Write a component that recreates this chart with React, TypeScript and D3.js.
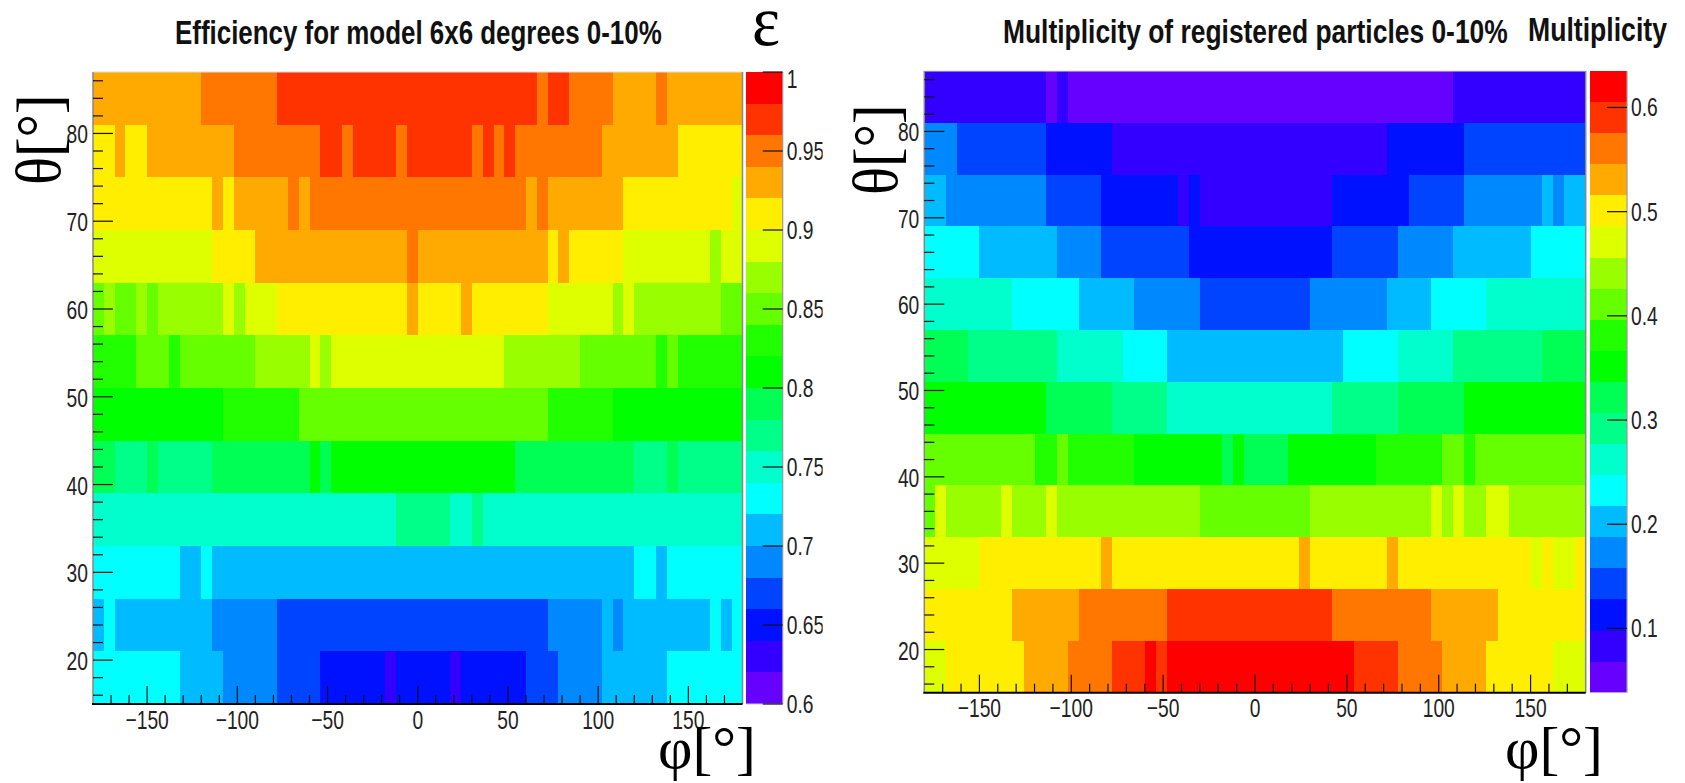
import React from "react";
import * as d3 from "d3";

// Colour levels of the ROOT contour palette (bottom to top of the colour bar)
const paletteColors = [
  "#6600ff", "#3300ff", "#0011ff", "#0044ff", "#0088ff", "#00bbff", "#00ffff", "#00ffcc", "#00ff88", "#00ff55",
  "#00ff00", "#22ff00", "#66ff00", "#99ff00", "#ddff00", "#ffee00", "#ffaa00", "#ff7700", "#ff3300", "#ff0000",
];

// theta rows from 87 down to 15, six degrees each; every row is a list of [level, number of 6-degree phi bins]
const efficiencyRuns: number[][][] = [
  [[16,10],[17,7],[18,24],[17,1],[18,2],[17,4],[16,4],[17,1],[16,7]],
  [[15,2],[16,1],[15,2],[16,8],[17,8],[18,2],[17,1],[18,4],[17,1],[18,6],[17,1],[18,1],[17,1],[18,1],[17,8],[16,7],[15,6]],
  [[15,11],[16,1],[15,1],[16,5],[17,1],[16,1],[17,20],[16,1],[17,1],[16,7],[15,10],[14,1]],
  [[14,11],[15,4],[16,14],[17,1],[16,12],[15,1],[16,1],[15,5],[14,8],[13,1],[14,2]],
  [[12,1],[13,1],[12,2],[13,1],[12,1],[13,6],[14,1],[13,1],[14,3],[15,12],[16,1],[15,4],[16,1],[15,7],[14,6],[13,1],[14,1],[13,8],[12,2]],
  [[11,4],[12,3],[11,1],[12,7],[13,5],[14,1],[13,1],[14,16],[13,7],[12,7],[11,1],[12,1],[11,6]],
  [[10,12],[11,7],[12,23],[11,6],[10,12]],
  [[9,2],[8,3],[9,1],[8,5],[9,9],[10,1],[9,1],[10,17],[9,11],[8,3],[9,1],[8,6]],
  [[7,28],[8,5],[7,2],[8,1],[7,24]],
  [[6,8],[5,2],[6,1],[5,39],[6,2],[5,1],[6,7]],
  [[5,1],[6,1],[5,9],[4,6],[3,25],[4,5],[5,1],[4,1],[5,8],[6,1],[5,1],[6,1]],
  [[6,8],[5,4],[4,5],[3,4],[2,6],[1,1],[2,5],[1,1],[2,6],[3,3],[4,4],[5,6],[6,7]],
];

const multiplicityRuns: number[][][] = [
  [[1,11],[0,1],[1,1],[0,35],[1,12]],
  [[4,3],[3,8],[2,6],[1,25],[2,7],[3,11]],
  [[5,2],[4,9],[3,5],[2,7],[1,1],[2,1],[1,12],[2,7],[3,5],[4,7],[5,1],[4,1],[5,2]],
  [[6,5],[5,7],[4,4],[3,8],[2,13],[3,6],[4,5],[5,7],[6,5]],
  [[7,8],[6,6],[5,5],[4,6],[3,10],[4,7],[5,4],[6,5],[7,9]],
  [[9,4],[8,8],[7,6],[6,4],[5,16],[6,5],[7,5],[8,8],[9,4]],
  [[10,11],[9,6],[8,5],[7,15],[8,6],[9,6],[10,11]],
  [[12,10],[11,2],[12,1],[11,6],[10,8],[9,1],[10,1],[9,4],[10,8],[11,6],[12,2],[11,1],[12,10]],
  [[12,1],[14,1],[13,5],[14,1],[13,3],[14,1],[13,13],[12,10],[13,11],[14,1],[13,1],[14,1],[13,2],[14,2],[13,7]],
  [[14,5],[15,11],[16,1],[15,17],[16,1],[15,7],[16,1],[15,12],[14,1],[15,1],[14,2],[15,1]],
  [[15,8],[16,6],[17,8],[18,15],[17,9],[16,6],[15,8]],
  [[14,2],[15,7],[16,4],[17,4],[18,3],[19,1],[18,1],[19,17],[18,4],[17,4],[16,4],[15,6],[14,3]],
];

const phiMajorTicks = [-150, -100, -50, 0, 50, 100, 150];
const phiMinorTicks = d3.range(-170, 171, 10).filter((d) => d % 50 !== 0);
const thetaMajorTicks = [20, 30, 40, 50, 60, 70, 80];
const thetaMinorTicks = d3.range(16, 87, 2).filter((d) => d % 10 !== 0);
const efficiencyBarTicks = [0.6, 0.65, 0.7, 0.75, 0.8, 0.85, 0.9, 0.95, 1];
const multiplicityBarTicks = [0.1, 0.2, 0.3, 0.4, 0.5, 0.6];

const PHI_STEP = 6;
const THETA_STEP = 6;
const SERIF = "'Liberation Serif', 'DejaVu Serif', serif";
const SANS = "'Liberation Sans', Arial, sans-serif";

// Horizontal scale that squeezes a string into the width it has in the picture.
function fitScale(text: string, font: string, width: number) {
  const ctx = document.createElement("canvas").getContext("2d");
  if (!ctx) return 1;
  ctx.font = font;
  return width / ctx.measureText(text).width;
}

function FittedText(props: { x: number; y: number; width: number; size: number; bold?: boolean; serif?: boolean; text: string }) {
  const family = props.serif ? SERIF : SANS;
  const weight = props.bold ? "bold" : "normal";
  const sx = fitScale(props.text, `${weight} ${props.size}px ${family}`, props.width);
  return (
    <text
      transform={`translate(${props.x},${props.y}) scale(${sx},1)`}
      fontFamily={family}
      fontWeight={weight}
      fontSize={props.size}
      fill={props.serif ? "#000" : "#111"}
    >
      {props.text}
    </text>
  );
}

function Label(props: { x: number; y: number; anchor?: string; children: React.ReactNode }) {
  return (
    <text
      transform={`translate(${props.x},${props.y}) scale(0.74,1)`}
      fontFamily={SANS}
      fontSize={26}
      fill="#222"
      textAnchor={props.anchor ?? "start"}
    >
      {props.children}
    </text>
  );
}

type PanelProps = {
  id: string;
  runs: number[][][];
  plot: { x0: number; x1: number; y0: number; y1: number };
  bar: { x0: number; x1: number; clip: number };
  zDomain: [number, number];
  barTicks: number[];
  title: { text: string; x: number; len: number; y: number };
  xLabelY: number;
  thetaLabel: { x: number; y: number };
  phiLabel: { x: number; y: number };
};

function Panel({ id, runs, plot, bar, zDomain, barTicks, title, xLabelY, thetaLabel, phiLabel }: PanelProps) {
  const x = d3.scaleLinear().domain([-180, 180]).range([plot.x0, plot.x1]);
  const y = d3.scaleLinear().domain([15, 87]).range([plot.y1, plot.y0]);
  const z = d3.scaleLinear().domain(zDomain).range([plot.y1, plot.y0]);
  const levelStep = (zDomain[1] - zDomain[0]) / paletteColors.length;
  const color = d3.scaleQuantize<string>().domain(zDomain).range(paletteColors);

  const cells: { phi0: number; phi1: number; top: number; value: number }[] = [];
  runs.forEach((row, r) => {
    let start = -180;
    const top = 87 - r * THETA_STEP;
    row.forEach(([level, count]) => {
      const end = start + count * PHI_STEP;
      cells.push({ phi0: start, phi1: end, top, value: zDomain[0] + (level + 0.5) * levelStep });
      start = end;
    });
  });

  const barBands = paletteColors.map((_, i) => zDomain[0] + i * levelStep);

  return (
    <g>
      <clipPath id={`${id}-barlabels`}>
        <rect x={bar.x1} y={0} width={bar.clip - bar.x1} height={783} />
      </clipPath>
      <g shapeRendering="crispEdges">
        {cells.map((c, i) => (
          <rect
            key={i}
            x={x(c.phi0)}
            y={y(c.top)}
            width={x(c.phi1) - x(c.phi0)}
            height={y(c.top - THETA_STEP) - y(c.top)}
            fill={color(c.value)}
          />
        ))}
        {barBands.map((b) => (
          <rect
            key={b}
            x={bar.x0}
            y={z(b + levelStep)}
            width={bar.x1 - bar.x0}
            height={z(b) - z(b + levelStep)}
            fill={color(b + levelStep / 2)}
          />
        ))}
      </g>

      {/* frame */}
      <line x1={plot.x0} x2={plot.x1} y1={plot.y0} y2={plot.y0} stroke="#ddd" strokeWidth={1} />
      <line x1={plot.x0} x2={plot.x0} y1={plot.y0} y2={plot.y1} stroke="#888" strokeWidth={1.5} />
      <line x1={plot.x1} x2={plot.x1} y1={plot.y0} y2={plot.y1} stroke="#888" strokeWidth={1.5} />
      <line x1={bar.x1} x2={bar.x1} y1={plot.y0} y2={plot.y1} stroke="#999" strokeWidth={1.2} />
      <line x1={bar.x0} x2={bar.x1} y1={plot.y1} y2={plot.y1} stroke="#ccc" strokeWidth={1} />

      {/* axes ticks */}
      {thetaMajorTicks.map((t) => (
        <line key={t} x1={plot.x0} x2={plot.x0 + 20} y1={y(t)} y2={y(t)} stroke="#111" strokeWidth={1.2} />
      ))}
      {thetaMinorTicks.map((t) => (
        <line key={t} x1={plot.x0} x2={plot.x0 + 10} y1={y(t)} y2={y(t)} stroke="#111" strokeWidth={1.2} />
      ))}
      {phiMajorTicks.map((t) => (
        <line key={t} x1={x(t)} x2={x(t)} y1={plot.y1} y2={plot.y1 - 18} stroke="#111" strokeWidth={1.2} />
      ))}
      {phiMinorTicks.map((t) => (
        <line key={t} x1={x(t)} x2={x(t)} y1={plot.y1} y2={plot.y1 - 9} stroke="#111" strokeWidth={1.2} />
      ))}
      <line x1={plot.x0 - 1} x2={plot.x1} y1={plot.y1} y2={plot.y1} stroke="#000" strokeWidth={2} />
      {barTicks.map((t) => (
        <line key={t} x1={bar.x1 - 20} x2={bar.x1} y1={z(t)} y2={z(t)} stroke="#111" strokeWidth={1.2} />
      ))}

      {/* tick labels */}
      {thetaMajorTicks.map((t) => (
        <Label key={t} x={plot.x0 - 5} y={y(t) + 10} anchor="end">
          {t}
        </Label>
      ))}
      {phiMajorTicks.map((t) => (
        <Label key={t} x={x(t)} y={xLabelY} anchor="middle">
          {t < 0 ? `\u2212${-t}` : t}
        </Label>
      ))}
      <g clipPath={`url(#${id}-barlabels)`}>
        {barTicks.map((t) => (
          <Label key={t} x={bar.x1 + 4} y={Math.max(z(t) + 9, plot.y0 + 16)}>
            {d3.format("~g")(t)}
          </Label>
        ))}
      </g>

      {/* titles */}
      <FittedText x={title.x} y={title.y} width={title.len} size={33} bold text={title.text} />
      <text
        transform={`translate(${thetaLabel.x},${thetaLabel.y}) rotate(-90) scale(0.93,1)`}
        fontFamily={SERIF}
        fontSize={63}
        fill="#000"
      >
        θ[°]
      </text>
      <FittedText x={phiLabel.x} y={phiLabel.y} width={98} size={60} serif text="φ[°]" />
    </g>
  );
}

export default function App() {
  return (
    <svg width={1685} height={783} style={{ position: "absolute", left: 0, top: 0, background: "#fff" }}>
      <Panel
        id="eff"
        runs={efficiencyRuns}
        plot={{ x0: 93, x1: 742.5, y0: 72, y1: 704 }}
        bar={{ x0: 746, x1: 782.7, clip: 822.7 }}
        zDomain={[0.6, 1]}
        barTicks={efficiencyBarTicks}
        title={{ text: "Efficiency for model 6x6 degrees 0-10%", x: 175, len: 487, y: 44 }}
        xLabelY={729}
        thetaLabel={{ x: 60, y: 185 }}
        phiLabel={{ x: 658, y: 768 }}
      />
      <Panel
        id="mult"
        runs={multiplicityRuns}
        plot={{ x0: 924.3, x1: 1585.7, y0: 71, y1: 692.7 }}
        bar={{ x0: 1589.7, x1: 1627, clip: 1680 }}
        zDomain={[0.0383, 0.635]}
        barTicks={multiplicityBarTicks}
        title={{ text: "Multiplicity of registered particles 0-10%", x: 1003, len: 505, y: 43 }}
        xLabelY={717}
        thetaLabel={{ x: 897, y: 195 }}
        phiLabel={{ x: 1505, y: 768 }}
      />
      <FittedText x={1528} y={41} width={139} size={33} bold text="Multiplicity" />
      <text transform="translate(752,45) scale(0.88,0.94)" fontFamily={SERIF} fontSize={76} fill="#000">
        ε
      </text>
    </svg>
  );
}
